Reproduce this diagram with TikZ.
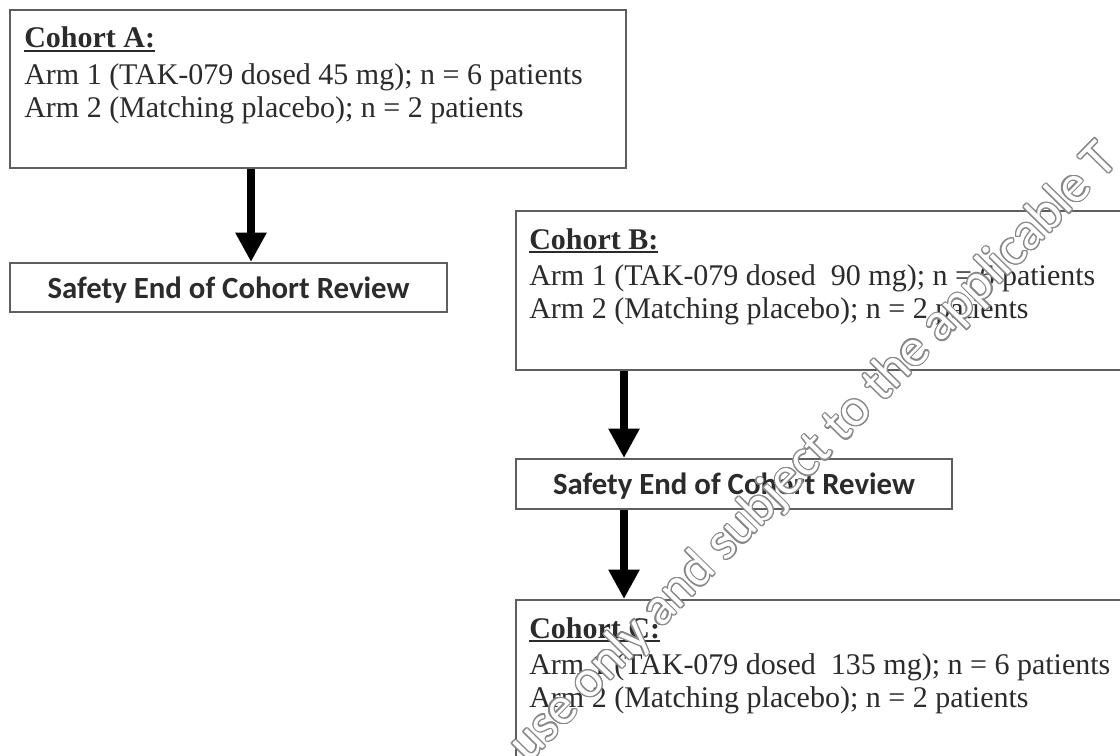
\documentclass[tikz,border=0pt]{standalone}
\usepackage{fontspec}
\setmainfont{Liberation Serif}
\newfontfamily\calib{Carlito}
\usepackage[copies]{contour}
\contourlength{0.9pt}
\usetikzlibrary{arrows.meta,fit,calc}
\definecolor{bordergray}{HTML}{5E5E5E}
\definecolor{txt}{HTML}{2B2B2B}
\definecolor{wmgray}{HTML}{888888}
\newcommand\ulhead[1]{\setbox0=\hbox{\bfseries #1}\rlap{\rule[-3.2pt]{\wd0}{1.5pt}}\box0}
\begin{document}
\begin{tikzpicture}[x=0.75pt,y=-0.75pt,
 cbox/.style={draw=bordergray, line width=1.5pt, inner sep=0pt, rectangle},
 cohtext/.style={anchor=base west, inner sep=0pt, text=txt, font=\fontsize{22.5}{25.5}\selectfont},
 revtext/.style={text=txt, inner sep=0pt, font=\calib\bfseries\fontsize{23.1}{27}\selectfont},
 bigarrow/.style={line width=6.3pt, -{Triangle[width=22pt,length=22pt]}, black},
 wmark/.style={rotate=45.5, anchor=base west, inner sep=0pt, text=white, font=\calib\fontsize{39.5}{42}\selectfont},
]
\useasboundingbox (0,0) rectangle (1120,756);
\clip (0,0) rectangle (1120,756);
\fill[white] (0,0) rectangle (1120,756);

% Cohort A
\node[cbox, fit={(10,10)(626,168)}] (A) {};
\node[cohtext] (A1) at (24,48) {\ulhead{Cohort A:}};
\node[cohtext] (A2) at (24,85) {Arm 1 (TAK-079 dosed 45 mg); n = 6 patients};
\node[cohtext] (A3) at (24,118) {Arm 2 (Matching placebo); n = 2 patients};

% Review 1
\node[cbox, fit={(10,263)(447,312)}] (S1) {};
\node[revtext] (S1t) at ($(S1.center)+(0,2.5)$) {Safety End of Cohort Review};

% Cohort B
\node[cbox, fit={(516,211)(1135,370)}] (B) {};
\node[cohtext] (B1) at (529,249) {\ulhead{Cohort B:}};
\node[cohtext] (B2) at (529,285) {Arm 1 (TAK-079 dosed\ \ 90 mg); n = 6 patients};
\node[cohtext] (B3) at (529,318) {Arm 2 (Matching placebo); n = 2 patients};

% Review 2
\node[cbox, fit={(516,459)(952,509)}] (S2) {};
\node[revtext] (S2t) at ($(S2.center)+(0,2.5)$) {Safety End of Cohort Review};

% Cohort C
\node[cbox, fit={(516,600)(1135,775)}] (C) {};
\node[cohtext] (C1) at (529,638) {\ulhead{Cohort C:}};
\node[cohtext] (C2) at (529,674) {Arm 1 (TAK-079 dosed\ \ 135 mg); n = 6 patients};
\node[cohtext] (C3) at (529,707) {Arm 2 (Matching placebo); n = 2 patients};

% Arrows
\draw[bigarrow] ($(A.south west)+(242,0)$) -- ($(S1.north west)+(242,0)$);
\draw[bigarrow] ($(B.south west)+(109,0)$) -- ($(S2.north west)+(109,0)$);
\draw[bigarrow] ($(S2.south west)+(109,0)$) -- ($(C.north west)+(109,0)$);

% Watermark
\node[wmark] (wm) at (528,764) {\contour{wmgray}{use only and subject to the applicable T}};
\end{tikzpicture}
\end{document}
